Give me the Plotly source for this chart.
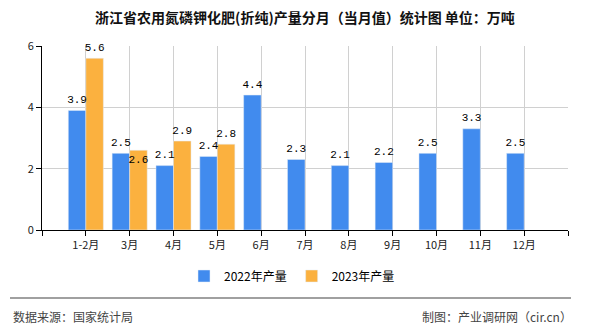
import plotly.graph_objects as go

categories = ["1-2月", "3月", "4月", "5月", "6月", "7月", "8月", "9月", "10月", "11月", "12月"]
values_2022 = [3.9, 2.5, 2.1, 2.4, 4.4, 2.3, 2.1, 2.2, 2.5, 3.3, 2.5]
values_2023 = [5.6, 2.6, 2.9, 2.8]
y_ticks = [0, 2, 4, 6]

W, H = 590, 330
L, R, T, B = 42, 568, 46, 230


def px_x(p):
    return (p - L) / (R - L)


def px_y(p):
    return (B - p) / (B - T)


BLUE = "#418bee"
ORANGE = "#fbb13f"
CJK = "Noto Sans CJK SC"
MONO = "Liberation Mono"

xs22 = list(range(len(values_2022)))
xs23 = list(range(len(values_2023)))
BAR_OFFSET = 0.2  # half of a bar width inside a group (bargap 0.2, two series)

# label positions: 2.6 sits just below the top of its bar (as in reference)
pos22 = ["top center"] * len(values_2022)
pos23 = ["top center", "bottom center", "top center", "top center"]

fig = go.Figure()
fig.add_trace(go.Bar(
    x=xs22, y=values_2022, name="2022年产量", marker_color=BLUE,
))
fig.add_trace(go.Bar(
    x=xs23, y=values_2023, name="2023年产量", marker_color=ORANGE,
))
# value labels
fig.add_trace(go.Scatter(
    x=[x - BAR_OFFSET for x in xs22], y=values_2022, mode="markers+text",
    text=[f"{v}" for v in values_2022], textposition=pos22,
    marker=dict(size=6, opacity=0), showlegend=False, hoverinfo="skip",
    textfont=dict(family=MONO, size=11, color="#000"), cliponaxis=False,
))
fig.add_trace(go.Scatter(
    x=[x + BAR_OFFSET for x in xs23], y=values_2023, mode="markers+text",
    text=[f"{v}" for v in values_2023], textposition=pos23,
    marker=dict(size=6, opacity=0), showlegend=False, hoverinfo="skip",
    textfont=dict(family=MONO, size=11, color="#000"), cliponaxis=False,
))

tickvals = list(range(-1, len(categories) + 1))
ticktext = [""] + categories + [""]

fig.update_layout(
    width=W, height=H,
    margin=dict(l=L, r=W - R, t=T, b=H - B, pad=0),
    paper_bgcolor="white", plot_bgcolor="white",
    barmode="group", bargap=0.2, bargroupgap=0,
    font=dict(family=CJK, size=11, color="#222"),
    title=dict(
        text="浙江省农用氮磷钾化肥(折纯)产量分月（当月值）统计图 单位：万吨",
        x=0.5, xref="paper", xanchor="center",
        y=1 - 18 / H, yanchor="middle",
        font=dict(family=CJK, size=14, color="#111", weight="bold"),
    ),
    xaxis=dict(
        range=[-1, len(categories)], tickmode="array", tickvals=tickvals, ticktext=ticktext,
        showgrid=True, gridcolor="#d0d0d0", gridwidth=1,
        showline=True, linecolor="#000", linewidth=1,
        ticks="outside", ticklen=5, tickcolor="#000",
        tickfont=dict(family=CJK, size=11, color="#222"), zeroline=False,
    ),
    yaxis=dict(
        range=[0, 6], tickmode="array", tickvals=y_ticks,
        showgrid=True, gridcolor="#d0d0d0", gridwidth=1,
        showline=True, linecolor="#000", linewidth=1,
        ticks="outside", ticklen=5, tickcolor="#000",
        tickfont=dict(family=CJK, size=11, color="#222"), zeroline=False,
    ),
    legend=dict(
        orientation="h", x=px_x(292), xanchor="center", y=px_y(276), yanchor="middle",
        font=dict(family=CJK, size=12, color="#000"), itemwidth=30,
        traceorder="normal",
    ),
    shapes=[dict(
        type="line", xref="paper", yref="paper",
        x0=px_x(10), x1=px_x(571), y0=px_y(298), y1=px_y(298),
        line=dict(color="#808080", width=1.5),
    )],
    annotations=[
        dict(text="数据来源：国家统计局", xref="paper", yref="paper",
             x=px_x(11), y=px_y(316), xanchor="left", yanchor="middle", showarrow=False,
             font=dict(family=CJK, size=12, color="#444")),
        dict(text="制图：产业调研网（cir.cn）", xref="paper", yref="paper",
             x=px_x(574), y=px_y(316), xanchor="right", yanchor="middle", showarrow=False,
             font=dict(family=CJK, size=12, color="#444")),
    ],
)

fig.write_html("out.html")
